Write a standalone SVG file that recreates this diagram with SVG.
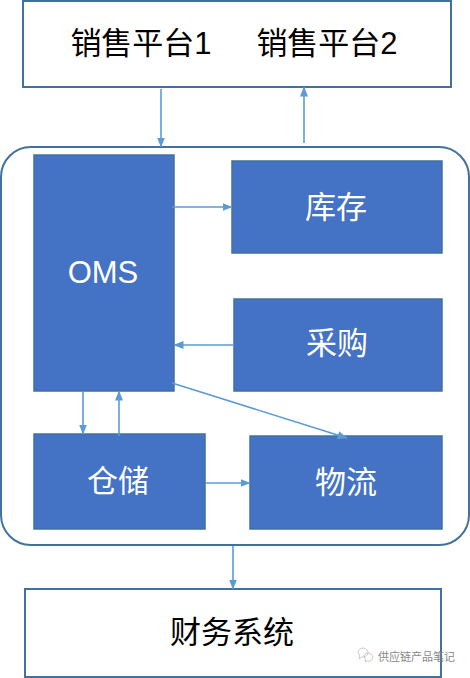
<svg xmlns="http://www.w3.org/2000/svg" width="470" height="678" viewBox="0 0 470 678">
<defs>
<marker id="ah" markerWidth="10" markerHeight="8" refX="9.5" refY="4" orient="auto" markerUnits="userSpaceOnUse">
<path d="M0,0 L10,4 L0,8 Z" fill="#5B9BD5"/>
</marker>
<style>
.white{fill:#fff;stroke:#41719C;stroke-width:2}
.blue{fill:#4472C4;stroke:#41719C;stroke-width:1.5}
.t{font-family:"Liberation Sans","Noto Sans CJK SC",sans-serif;font-size:31px;text-anchor:middle;dominant-baseline:central}
.tw{fill:#fff}
.tb{fill:#000}
.c{stroke:#5B9BD5;stroke-width:1.6;fill:none;marker-end:url(#ah)}
</style>
</defs>
<rect width="470" height="678" fill="#fff"/>
<g id="sales">
<rect class="white" x="23" y="1" width="428" height="86"/>
<text class="t tb" x="141" y="43">销售平台1</text>
<text class="t tb" x="327" y="43">销售平台2</text>
</g>
<g id="container">
<rect x="1" y="147" width="468" height="398" rx="30" ry="30" fill="#fff" stroke="#41719C" stroke-width="2"/>
</g>
<g id="oms">
<rect class="blue" x="34" y="155" width="140" height="236"/>
<text class="t tw" x="103" y="272" font-family="Liberation Sans,sans-serif">OMS</text>
</g>
<g id="kucun">
<rect class="blue" x="232" y="161" width="210" height="92"/>
<text class="t tw" x="336" y="207">库存</text>
</g>
<g id="caigou">
<rect class="blue" x="234" y="299" width="208" height="92"/>
<text class="t tw" x="337" y="343">采购</text>
</g>
<g id="cangchu">
<rect class="blue" x="34" y="434" width="171" height="95"/>
<text class="t tw" x="118" y="481">仓储</text>
</g>
<g id="wuliu">
<rect class="blue" x="250" y="436" width="192" height="93"/>
<text class="t tw" x="346" y="482">物流</text>
</g>
<g id="caiwu">
<rect class="white" x="25" y="589" width="416" height="88"/>
<text class="t tb" x="232" y="632">财务系统</text>
</g>
<g id="connectors">
<line class="c" x1="161" y1="89" x2="161" y2="147"/>
<line class="c" x1="304" y1="143" x2="304" y2="87"/>
<line class="c" x1="172" y1="207" x2="232" y2="207"/>
<line class="c" x1="234" y1="345" x2="174" y2="345"/>
<line class="c" x1="172" y1="383" x2="347" y2="438"/>
<line class="c" x1="83" y1="391" x2="83" y2="434"/>
<line class="c" x1="119" y1="436" x2="119" y2="391"/>
<line class="c" x1="205" y1="483" x2="250" y2="483"/>
<line class="c" x1="233" y1="546" x2="233" y2="589"/>
</g>
<g id="watermark">
<path d="M358,652 a5,4.5 0 1 1 4,5 l-3,2 l0.8,-3 z" fill="none" stroke="#bbb" stroke-width="0.8"/>
<path d="M364,656 a4.5,4 0 1 1 3,5 l-2,1 l0.5,-2 z" fill="none" stroke="#bbb" stroke-width="0.8"/>
<text x="378" y="657" font-family="Liberation Sans,'Noto Sans CJK SC',sans-serif" font-size="11" fill="#888" dominant-baseline="central">供应链产品笔记</text>
</g>
</svg>
